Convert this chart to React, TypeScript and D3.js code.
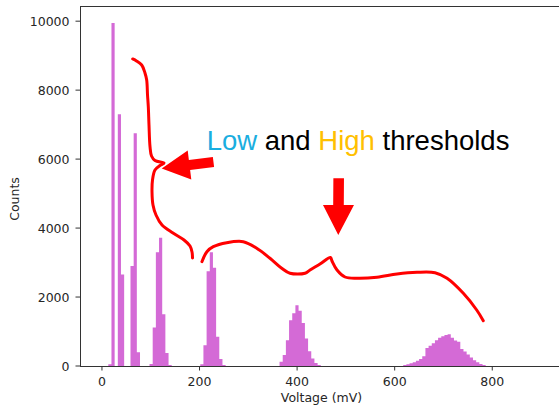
import React from "react";
import * as d3 from "d3";

// histogram bins are 6.5 mV wide, starting at 0 mV
const binWidth = 6.5;

// counts per bin for each cluster, with the index of its first bin
const clusterAFirstBin = 2;
const clusterACounts = [50, 9950, 0, 7300, 2650, 0, 0, 2900, 6750, 400];
const clusterBFirstBin = 15;
const clusterBCounts = [60, 1120, 3300, 3720, 1500, 380, 30];
const clusterCFirstBin = 31;
const clusterCCounts = [50, 600, 2750, 3300, 2850, 850, 200, 30];
const clusterDFirstBin = 56;
const clusterDCounts = [120, 320, 750, 1330, 1530, 1760, 1600, 1250, 800, 430, 220, 90, 30];
const clusterEFirstBin = 95;
const clusterECounts = [
  30, 50, 80, 110, 150, 200, 280, 520, 590, 660, 750, 820, 860, 900, 920, 820,
  740, 700, 490, 420, 330, 250, 170, 110, 60, 30,
];

const xTicks = [0, 200, 400, 600, 800];
const yTicks = [0, 2000, 4000, 6000, 8000, 10000];

// hand drawn threshold curves, [voltage, counts]
const lowCurve: [number, number][] = [
  [63.0, 8904], [70.8, 8846], [81.5, 8730], [88.2, 8498], [91.7, 8295],
  [93.4, 7860], [95.0, 7517], [96.4, 6995], [98.5, 6360], [101.6, 6090],
  [108.7, 5960], [127.2, 5887], [119.0, 5815], [108.7, 5684], [103.6, 5394],
  [102.6, 5046], [104.6, 4669], [110.8, 4379], [123.1, 4089], [145.6, 3857],
  [168.2, 3654], [180.5, 3480], [184.6, 3306], [185.6, 3132],
];
const highCurve: [number, number][] = [
  [204.9, 3025], [215.1, 3315], [228.2, 3460], [255.7, 3576], [289.7, 3605],
  [317.2, 3414], [344.4, 3124], [368.4, 2834], [385.4, 2689], [416.2, 2689],
  [426.5, 2784], [446.9, 2958], [468.4, 3147], [471.5, 3045], [481.8, 2784],
  [498.2, 2581], [522.8, 2544], [563.8, 2573], [604.8, 2668], [645.8, 2718],
  [682.7, 2706], [707.3, 2544], [740.7, 2108], [768.1, 1624], [781.6, 1314],
];

// arrows: tail -> tip
const arrows: { from: [number, number]; to: [number, number] }[] = [
  { from: [228.6, 5916], to: [122.5, 5728] },
  { from: [485.2, 5444], to: [484.4, 3799] },
];
const notePos: [number, number] = [214.7, 6258];

const W = 559;
const H = 409;
const margin = { top: 6, right: -4, bottom: 43, left: 80 };

const clusters: [number, number[]][] = [
  [clusterAFirstBin, clusterACounts],
  [clusterBFirstBin, clusterBCounts],
  [clusterCFirstBin, clusterCCounts],
  [clusterDFirstBin, clusterDCounts],
  [clusterEFirstBin, clusterECounts],
];

export default function App() {
  const x = d3.scaleLinear().domain([-45, 945]).range([margin.left, W - margin.right]);
  const y = d3.scaleLinear().domain([0, 10440]).range([H - margin.bottom, margin.top]);

  const line = d3
    .line<[number, number]>()
    .x((d) => x(d[0]))
    .y((d) => y(d[1]))
    .curve(d3.curveCatmullRom.alpha(0.5));

  // one step outline per cluster so neighbouring bars have no seams
  const clusterPath = (first: number, counts: number[]) => {
    const p = d3.path();
    p.moveTo(x(first * binWidth), y(0));
    counts.forEach((c, i) => {
      p.lineTo(x((first + i) * binWidth), y(c));
      p.lineTo(x((first + i + 1) * binWidth), y(c));
    });
    p.lineTo(x((first + counts.length) * binWidth), y(0));
    p.closePath();
    return p.toString();
  };

  const arrowPath = (a: { from: [number, number]; to: [number, number] }, headLen: number, headHalf: number, shaftHalf: number) => {
    const sx = x(a.from[0]), sy = y(a.from[1]);
    const tx = x(a.to[0]), ty = y(a.to[1]);
    const len = Math.hypot(tx - sx, ty - sy);
    const ux = (tx - sx) / len, uy = (ty - sy) / len;
    const nx = -uy, ny = ux;
    const bx = tx - ux * headLen, by = ty - uy * headLen;
    const pts = [
      [sx + nx * shaftHalf, sy + ny * shaftHalf],
      [bx + nx * shaftHalf, by + ny * shaftHalf],
      [bx + nx * headHalf, by + ny * headHalf],
      [tx, ty],
      [bx - nx * headHalf, by - ny * headHalf],
      [bx - nx * shaftHalf, by - ny * shaftHalf],
      [sx - nx * shaftHalf, sy - ny * shaftHalf],
    ];
    return "M" + pts.map((p) => p.join(",")).join("L") + "Z";
  };

  const y0 = y(0);
  const tickFont = "'DejaVu Sans', sans-serif";

  return (
    <svg
      width={W}
      height={H}
      style={{ position: "absolute", left: 0, top: 0, background: "#fff" }}
    >
      {/* histogram */}
      <g fill="#d46ad6">
        {clusters.map(([first, counts], i) => (
          <path key={i} d={clusterPath(first, counts)} />
        ))}
      </g>

      {/* spines */}
      <g stroke="#333" strokeWidth={1} fill="none" shapeRendering="crispEdges">
        <line x1={margin.left} x2={margin.left} y1={margin.top} y2={y0} />
        <line x1={margin.left} x2={W - margin.right} y1={y0} y2={y0} />
        <line x1={margin.left} x2={W - margin.right} y1={margin.top} y2={margin.top} />
      </g>

      {/* x axis */}
      <g fontFamily={tickFont} fontSize={12.5} fill="#262626">
        {xTicks.map((t) => (
          <g key={t}>
            <line x1={x(t)} x2={x(t)} y1={y0} y2={y0 + 4.5} stroke="#333" />
            <text x={x(t)} y={y0 + 19.5} textAnchor="middle">
              {t}
            </text>
          </g>
        ))}
        <text x={x(450)} y={402} textAnchor="middle" fontSize={12.5}>
          Voltage (mV)
        </text>
      </g>

      {/* y axis */}
      <g fontFamily={tickFont} fontSize={12.5} fill="#262626">
        {yTicks.map((t) => (
          <g key={t}>
            <line x1={margin.left - 4.5} x2={margin.left} y1={y(t)} y2={y(t)} stroke="#333" />
            <text x={margin.left - 10.5} y={y(t)} dy="0.36em" textAnchor="end">
              {t}
            </text>
          </g>
        ))}
        <text
          transform={`translate(18.5,${199}) rotate(-90)`}
          textAnchor="middle"
          fontSize={12.5}
        >
          Counts
        </text>
      </g>

      {/* threshold curves */}
      <g fill="none" stroke="#ff0000" strokeWidth={3} strokeLinecap="round" strokeLinejoin="round">
        <path d={line(lowCurve) || ""} />
        <path d={line(highCurve) || ""} />
      </g>

      {/* arrows */}
      <path d={arrowPath(arrows[0], 28, 14.5, 5)} fill="#ff0000" />
      <path d={arrowPath(arrows[1], 30, 15.5, 5.3)} fill="#ff0000" />

      <text
        x={x(notePos[0])}
        y={y(notePos[1])}
        fontFamily="'Liberation Sans', Arial, sans-serif"
        fontSize={27.5}
        fill="#000"
      >
        <tspan fill="#1aaee0">Low</tspan>
        <tspan> and </tspan>
        <tspan fill="#ffc000">High</tspan>
        <tspan> thresholds</tspan>
      </text>
    </svg>
  );
}
